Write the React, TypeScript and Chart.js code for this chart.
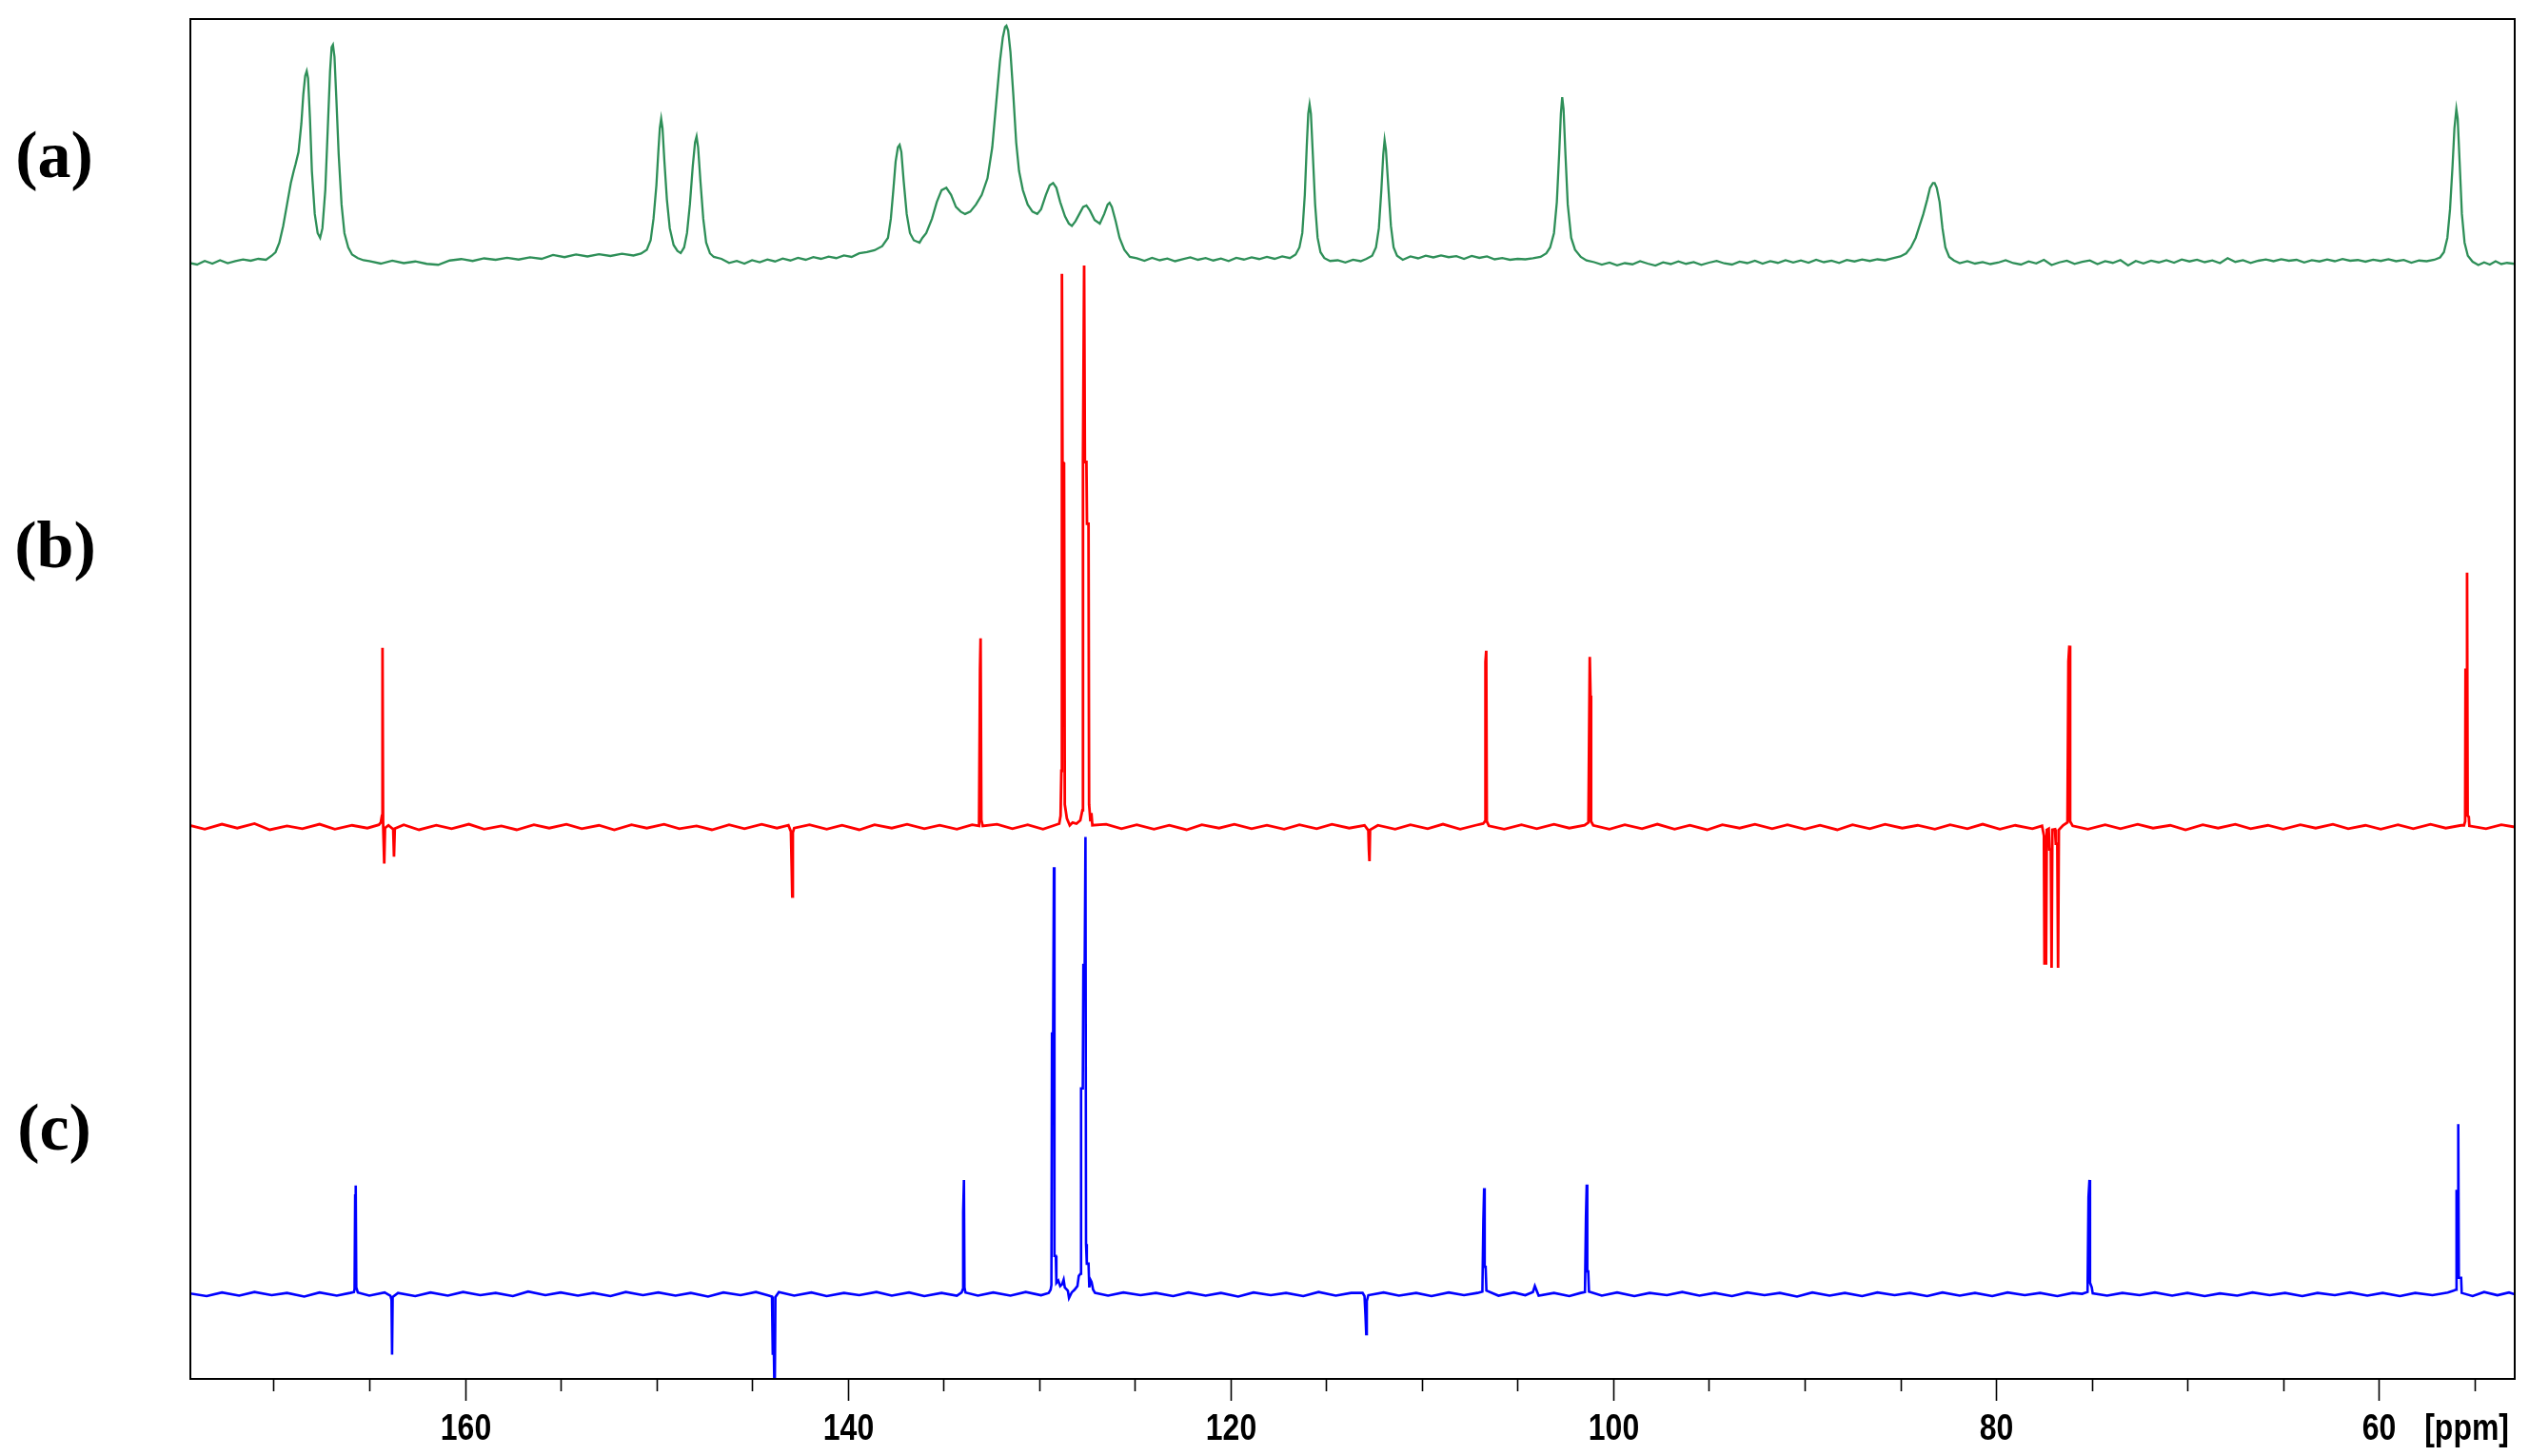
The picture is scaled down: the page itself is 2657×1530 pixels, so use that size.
import React, { useEffect, useRef } from "react";
import { Chart, registerables } from "chart.js";

Chart.register(...registerables);

// ---- DATA: [chemical shift (ppm), intensity] ----
// (a) green trace, tallest peak = 100
const traceA: [number, number][] = [
  [174.4, -0.5], [174.0, -1.2], [173.6, 0.3], [173.2, -0.8], [172.8, 0.6], [172.4, -0.6], [172.0, 0.2], [171.6, 0.9], [171.2, 0.4], [170.8, 1.2], [170.4, 0.8],
  [170.1, 2.5], [169.9, 4], [169.7, 8], [169.5, 15], [169.3, 24], [169.1, 33], [168.95, 38], [168.85, 41], [168.7, 46], [168.55, 58], [168.45, 70], [168.35, 78], [168.27, 80], [168.2, 77], [168.1, 60], [168.0, 38], [167.85, 20], [167.7, 12], [167.57, 10], [167.45, 14], [167.3, 30], [167.15, 60], [167.05, 80], [166.97, 90], [166.9, 91], [166.82, 86], [166.72, 68], [166.6, 45], [166.45, 24], [166.3, 12], [166.1, 6], [165.9, 3], [165.6, 1.5], [165.3, 0.6],
  [165.0, 0.2], [164.4, -0.8], [163.8, 0.4], [163.2, -0.6], [162.6, 0.1], [162.0, -0.9], [161.4, -1.3], [160.8, 0.5], [160.2, 1.1], [159.6, 0.3], [159.0, 1.4], [158.4, 0.8], [157.8, 1.6], [157.2, 0.9], [156.6, 1.8], [156.0, 1.2], [155.4, 2.8], [154.8, 1.9], [154.2, 3.0], [153.6, 2.2], [153.0, 3.1], [152.4, 2.4], [151.8, 3.3], [151.2, 2.6], [150.8, 3.4],
  [150.5, 5], [150.3, 9], [150.15, 18], [150.0, 32], [149.9, 46], [149.82, 56], [149.75, 60], [149.68, 56], [149.58, 42], [149.45, 26], [149.3, 14], [149.1, 7], [148.9, 4.5], [148.73, 3.6], [148.55, 6], [148.4, 12], [148.25, 24], [148.1, 40], [147.98, 50], [147.9, 52.5], [147.82, 48], [147.7, 34], [147.55, 18], [147.4, 8], [147.2, 3.5], [147.0, 2],
  [146.6, 1.2], [146.2, -0.5], [145.8, 0.3], [145.4, -0.8], [145.0, 0.6], [144.6, -0.2], [144.2, 0.9], [143.8, 0.1], [143.4, 1.3], [143.0, 0.5], [142.6, 1.6], [142.2, 0.8], [141.8, 1.9], [141.4, 1.2], [141.0, 2.1], [140.6, 1.5], [140.2, 2.6], [139.8, 2.0], [139.4, 3.5], [139.0, 4.0], [138.6, 4.8], [138.2, 6.5], [137.9, 10],
  [137.75, 18], [137.62, 30], [137.5, 42], [137.38, 48], [137.29, 49], [137.2, 46], [137.08, 34], [136.92, 20], [136.75, 12], [136.55, 9], [136.4, 8.5], [136.25, 8], [136.1, 10], [135.9, 12], [135.6, 18], [135.35, 25], [135.1, 30], [134.85, 31], [134.6, 28], [134.35, 23], [134.1, 21], [133.87, 20], [133.6, 21], [133.3, 24], [133.0, 28], [132.7, 35], [132.45, 48], [132.25, 66], [132.05, 84], [131.9, 94], [131.78, 98.5], [131.71, 99], [131.62, 97], [131.5, 88], [131.35, 70], [131.2, 50], [131.05, 38], [130.85, 30], [130.6, 24], [130.35, 21], [130.1, 20],
  [129.9, 22], [129.65, 28], [129.45, 32], [129.27, 33], [129.1, 31], [128.9, 25], [128.65, 19], [128.45, 16], [128.29, 15], [128.1, 17], [127.9, 20], [127.7, 23], [127.53, 23.6], [127.35, 21.5], [127.1, 17.5], [126.83, 16], [126.6, 20], [126.42, 24], [126.32, 24.7], [126.2, 23], [126.0, 17], [125.8, 10], [125.55, 5], [125.26, 2],
  [124.9, 1.4], [124.5, 0.4], [124.1, 1.6], [123.7, 0.6], [123.3, 1.3], [122.9, 0.2], [122.5, 1.0], [122.1, 1.8], [121.7, 0.8], [121.3, 1.5], [120.9, 0.5], [120.5, 1.3], [120.1, 0.3], [119.7, 1.6], [119.3, 0.9], [118.9, 1.8], [118.5, 1.1], [118.1, 2.0], [117.7, 1.2], [117.3, 2.2], [116.9, 1.5], [116.6, 3],
  [116.4, 6], [116.25, 12], [116.12, 28], [116.02, 48], [115.94, 62], [115.87, 66], [115.8, 62], [115.7, 45], [115.58, 24], [115.45, 10], [115.3, 4], [115.1, 1.5], [114.8, 0.3], [114.4, 0.6], [114.0, -0.3], [113.6, 0.8], [113.2, 0.2], [112.9, 1.2], [112.6, 2.5], [112.4, 6], [112.25, 14], [112.12, 30], [112.02, 45], [111.95, 51], [111.88, 47], [111.76, 32], [111.62, 15], [111.48, 6], [111.3, 2.5], [111.0, 0.8],
  [110.6, 2.2], [110.2, 1.4], [109.8, 2.5], [109.4, 1.8], [109.0, 2.6], [108.6, 1.9], [108.2, 2.3], [107.8, 1.2], [107.4, 2.4], [107.0, 1.6], [106.6, 2.2], [106.2, 1.0], [105.8, 1.5], [105.4, 0.8], [105.0, 1.2], [104.6, 1.0], [104.2, 1.4], [103.8, 2.0], [103.5, 3.5],
  [103.3, 6], [103.1, 12], [102.95, 25], [102.83, 45], [102.74, 62], [102.67, 69], [102.6, 64], [102.5, 45], [102.38, 24], [102.2, 10], [102.0, 5], [101.7, 2], [101.4, 0.5],
  [101.0, -0.2], [100.6, -1.2], [100.2, -0.4], [99.8, -1.5], [99.4, -0.6], [99.0, -1.1], [98.6, 0.2], [98.2, -0.8], [97.8, -1.6], [97.4, -0.3], [97.0, -1.0], [96.6, 0.1], [96.2, -0.9], [95.8, -0.2], [95.4, -1.3], [95.0, -0.4], [94.6, 0.3], [94.2, -0.7], [93.8, -1.2], [93.4, 0.0], [93.0, -0.6], [92.6, 0.4], [92.2, -0.8], [91.8, 0.2], [91.4, -0.5], [91.0, 0.6], [90.6, -0.3], [90.2, 0.5], [89.8, -0.4], [89.4, 0.8], [89.0, -0.2], [88.6, 0.4], [88.2, -0.5], [87.8, 0.7], [87.4, 0.1], [87.0, 0.9], [86.6, 0.3], [86.2, 1.0], [85.8, 0.6], [85.4, 1.4], [85.0, 2.2], [84.7, 3.5],
  [84.45, 6], [84.2, 10], [84.0, 15], [83.8, 20], [83.6, 26], [83.45, 31], [83.3, 33], [83.21, 33], [83.1, 31], [82.95, 25], [82.8, 14], [82.65, 6], [82.45, 2], [82.2, 0.5], [81.9, -0.6],
  [81.5, 0.2], [81.1, -0.8], [80.7, -0.2], [80.3, -1.0], [79.9, -0.4], [79.5, 0.6], [79.1, -0.6], [78.7, -1.2], [78.3, 0.1], [77.9, -0.7], [77.5, 0.8], [77.1, -1.4], [76.7, -0.3], [76.3, 0.4], [75.9, -0.9], [75.5, -0.1], [75.1, 0.5], [74.7, -1.0], [74.3, 0.2], [73.9, -0.5], [73.5, 0.7], [73.1, -1.6], [72.7, 0.3], [72.3, -0.7], [71.9, 0.4], [71.5, -0.3], [71.1, 0.6], [70.7, -0.4], [70.3, 0.9], [69.9, 0.1], [69.5, 0.8], [69.1, -0.2], [68.7, 0.5], [68.3, -0.6], [67.9, 1.5], [67.5, -0.1], [67.1, 0.6], [66.7, -0.5], [66.3, 0.4], [65.9, 0.9], [65.5, 0.2], [65.1, 1.0], [64.7, 0.4], [64.3, 0.8], [63.9, -0.3], [63.5, 0.6], [63.1, 0.1], [62.7, 0.9], [62.3, 0.2], [61.9, 1.1], [61.5, 0.4], [61.1, 0.7], [60.7, 0.0], [60.3, 0.8], [59.9, 0.3], [59.5, 1.0], [59.1, 0.2], [58.7, 0.7], [58.3, -0.4], [57.9, 0.5], [57.5, 0.2], [57.1, 0.8], [56.8, 1.8],
  [56.6, 4], [56.42, 10], [56.28, 22], [56.15, 40], [56.05, 56], [55.95, 64], [55.88, 60], [55.78, 42], [55.66, 20], [55.52, 8], [55.35, 2.5], [55.1, 0], [54.8, -1.4], [54.5, -0.3], [54.2, -1.2], [53.9, 0.2], [53.6, -1.0], [53.3, -0.5], [52.9, -0.9],
];

// (b) red trace, tallest line = 100
const traceB: [number, number][] = [
  [174.4, 0.3], [173.6, -0.4], [172.7, 0.5], [171.9, -0.2], [171.0, 0.6], [170.2, -0.5], [169.3, 0.2], [168.5, -0.3], [167.6, 0.5], [166.8, -0.4], [165.9, 0.3], [165.1, -0.2], [164.5, 0.4],
  [164.4, 0.8], [164.34, 2], [164.31, 31.9], [164.28, 1], [164.22, -6.5], [164.18, -0.2], [164.0, 0.3], [163.75, -0.4], [163.71, -5.3], [163.67, -0.3],
  [163.2, 0.4], [162.4, -0.5], [161.5, 0.3], [160.7, -0.3], [159.8, 0.5], [159.0, -0.4], [158.1, 0.2], [157.3, -0.5], [156.4, 0.4], [155.6, -0.2], [154.7, 0.5], [153.9, -0.3], [153.0, 0.3], [152.2, -0.5], [151.3, 0.4], [150.5, -0.2], [149.6, 0.5], [148.8, -0.3], [147.9, 0.2], [147.1, -0.5], [146.2, 0.4], [145.4, -0.3], [144.5, 0.5], [143.7, -0.2], [143.1, 0.3],
  [142.97, -0.8], [142.93, -7], [142.9, -12.4], [142.87, -1], [142.8, -0.2],
  [142.0, 0.4], [141.1, -0.4], [140.3, 0.3], [139.4, -0.5], [138.6, 0.4], [137.7, -0.2], [136.9, 0.5], [136.0, -0.3], [135.2, 0.3], [134.3, -0.4], [133.5, 0.4],
  [133.14, 0.2], [133.09, 28], [133.06, 33.6], [133.02, 1.2], [132.95, 0.2],
  [132.2, 0.5], [131.4, -0.3], [130.6, 0.4], [129.8, -0.4], [129.2, 0.3],
  [128.95, 0.6], [128.88, 2], [128.84, 10], [128.81, 98.5], [128.78, 65], [128.7, 64.8], [128.66, 4], [128.55, 1.5], [128.4, 0.3], [128.25, 0.8], [128.05, 0.6], [127.85, 1.2],
  [127.74, 3], [127.71, 65], [127.65, 100], [127.61, 65], [127.53, 65], [127.5, 54], [127.42, 54], [127.39, 4], [127.32, 1.0], [127.27, 2.5], [127.22, 0.3],
  [126.5, 0.5], [125.7, -0.3], [124.9, 0.4], [124.0, -0.4], [123.2, 0.3], [122.3, -0.5], [121.5, 0.4], [120.6, -0.2], [119.8, 0.5], [118.9, -0.3], [118.1, 0.3], [117.2, -0.4], [116.4, 0.4], [115.5, -0.3], [114.7, 0.5], [113.8, -0.2], [113.0, 0.3],
  [112.8, -0.6], [112.77, -4], [112.74, -6.1], [112.71, -0.5],
  [112.3, 0.3], [111.4, -0.4], [110.6, 0.4], [109.7, -0.3], [108.9, 0.5], [108.0, -0.4], [107.2, 0.3],
  [106.8, 0.6], [106.71, 1], [106.68, 29.4], [106.64, 31.4], [106.61, 1], [106.5, 0.2],
  [105.7, -0.4], [104.8, 0.4], [104.0, -0.3], [103.1, 0.5], [102.3, -0.2], [101.5, 0.3],
  [101.3, 0.8], [101.23, 30.3], [101.19, 23.4], [101.16, 1], [101.05, 0.3],
  [100.2, -0.4], [99.4, 0.4], [98.5, -0.3], [97.7, 0.5], [96.8, -0.4], [96.0, 0.3], [95.1, -0.5], [94.3, 0.4], [93.4, -0.2], [92.6, 0.5], [91.7, -0.3], [90.9, 0.4], [90.0, -0.4], [89.2, 0.3], [88.3, -0.5], [87.5, 0.4], [86.6, -0.3], [85.8, 0.5], [84.9, -0.2], [84.1, 0.3], [83.2, -0.4], [82.4, 0.4], [81.5, -0.3], [80.7, 0.5], [79.8, -0.4], [79.0, 0.3], [78.1, -0.3],
  [77.6, 0.2], [77.5, -1.5], [77.47, -24.3], [77.39, -24.3], [77.35, -0.5], [77.25, -0.3], [77.21, -4], [77.14, -4], [77.1, -25.1], [77.06, -0.5], [76.92, -0.4], [76.88, -3], [76.8, -3], [76.76, -25.1], [76.72, -0.5],
  [76.5, 0.3], [76.27, 0.8], [76.22, 29.5], [76.17, 32.3], [76.13, 1], [76.0, 0.2],
  [75.2, -0.4], [74.3, 0.4], [73.5, -0.3], [72.6, 0.5], [71.8, -0.2], [70.9, 0.3], [70.1, -0.5], [69.2, 0.4], [68.4, -0.2], [67.5, 0.5], [66.7, -0.3], [65.8, 0.3], [65.0, -0.4], [64.1, 0.4], [63.3, -0.2], [62.4, 0.5], [61.6, -0.3], [60.7, 0.3], [59.9, -0.4], [59.0, 0.4], [58.2, -0.3], [57.3, 0.5], [56.5, -0.2], [55.7, 0.3],
  [55.55, 0.3], [55.49, 1], [55.47, 28], [55.42, 28], [55.39, 45.3], [55.36, 2], [55.3, 1.8], [55.27, 0.2],
  [54.4, -0.3], [53.6, 0.4], [52.9, 0],
];

// (c) blue trace, tallest line = 100
const traceC: [number, number][] = [
  [174.4, 0.2], [173.5, -0.4], [172.7, 0.4], [171.8, -0.3], [171.0, 0.5], [170.1, -0.2], [169.3, 0.3], [168.4, -0.5], [167.6, 0.4], [166.7, -0.3], [166.0, 0.3],
  [165.8, 0.5], [165.77, 1.2], [165.74, 21.6], [165.71, 23.8], [165.68, 1.5], [165.6, 0.4],
  [165.0, -0.3], [164.2, 0.4], [163.9, -0.3], [163.84, -1.2], [163.81, -13.2], [163.78, -0.6], [163.5, 0.3],
  [162.6, -0.4], [161.8, 0.4], [160.9, -0.3], [160.1, 0.5], [159.2, -0.2], [158.4, 0.3], [157.5, -0.4], [156.7, 0.6], [155.8, -0.2], [155.0, 0.4], [154.1, -0.3], [153.3, 0.3], [152.4, -0.4], [151.6, 0.5], [150.7, -0.2], [149.9, 0.4], [149.0, -0.3], [148.2, 0.3], [147.3, -0.5], [146.5, 0.4], [145.6, -0.2], [144.8, 0.5], [144.2, -0.2],
  [143.96, -0.5], [143.92, -13], [143.86, -13], [143.82, -25], [143.78, -0.6], [143.6, 0.5],
  [142.8, -0.3], [141.9, 0.4], [141.1, -0.4], [140.2, 0.3], [139.4, -0.2], [138.5, 0.5], [137.7, -0.3], [136.8, 0.4], [136.0, -0.4], [135.1, 0.3], [134.3, -0.3],
  [134.05, 0.4], [134.0, 1], [133.97, 18], [133.93, 25], [133.9, 1.5], [133.85, 0.4],
  [133.2, -0.3], [132.4, 0.4], [131.5, -0.3], [130.7, 0.5], [129.9, -0.2], [129.5, 0.3],
  [129.4, 1.0], [129.36, 2], [129.33, 57], [129.27, 57], [129.23, 93.4], [129.2, 8.4], [129.13, 8.4], [129.1, 2.5], [129.0, 3], [128.9, 1.8], [128.8, 2.2], [128.72, 3.2], [128.66, 1.5], [128.5, 0.8], [128.44, -0.8], [128.3, 0.4], [128.15, 1], [128.0, 1.8],
  [127.93, 4], [127.84, 4.5], [127.81, 45], [127.72, 45], [127.69, 72], [127.62, 72], [127.58, 100], [127.55, 11], [127.51, 6.7], [127.42, 6.7], [127.38, 1.5], [127.32, 3.2], [127.26, 2.7], [127.18, 1], [127.08, 0.3],
  [126.4, -0.3], [125.6, 0.4], [124.7, -0.2], [123.9, 0.3], [123.0, -0.4], [122.2, 0.4], [121.3, -0.3], [120.5, 0.3], [119.6, -0.5], [118.8, 0.4], [117.9, -0.2], [117.1, 0.3], [116.2, -0.4], [115.4, 0.5], [114.5, -0.3], [113.7, 0.3],
  [113.1, 0.3], [113.0, -0.4], [112.95, -4.6], [112.91, -8.7], [112.88, -1.5], [112.8, -0.2],
  [112.0, 0.4], [111.2, -0.3], [110.3, 0.3], [109.5, -0.4], [108.6, 0.4], [107.8, -0.2], [107.1, 0.3],
  [106.84, 0.6], [106.79, 16], [106.75, 23.2], [106.72, 6], [106.67, 6], [106.63, 0.8],
  [106.0, -0.3], [105.2, 0.4], [104.6, -0.2], [104.2, 0.5], [104.1, 1.8], [103.9, -0.3], [103.1, 0.3], [102.3, -0.4], [101.7, 0.3],
  [101.48, 0.5], [101.43, 16.7], [101.39, 24], [101.36, 5], [101.31, 5], [101.27, 0.6],
  [100.6, -0.3], [99.8, 0.4], [98.9, -0.4], [98.1, 0.3], [97.2, -0.2], [96.4, 0.5], [95.5, -0.3], [94.7, 0.3], [93.8, -0.4], [93.0, 0.4], [92.1, -0.2], [91.3, 0.3], [90.4, -0.5], [89.6, 0.4], [88.7, -0.3], [87.9, 0.3], [87.0, -0.4], [86.2, 0.4], [85.3, -0.2], [84.5, 0.3], [83.6, -0.4], [82.8, 0.4], [81.9, -0.3], [81.1, 0.3], [80.2, -0.4], [79.4, 0.4], [78.5, -0.2], [77.7, 0.3], [76.8, -0.4], [76.0, 0.3], [75.5, 0.1],
  [75.22, 0.5], [75.17, 21.3], [75.12, 25], [75.09, 2.5], [75.0, 1.5], [74.95, 0.2],
  [74.2, -0.3], [73.4, 0.3], [72.5, -0.2], [71.7, 0.4], [70.8, -0.3], [70.0, 0.3], [69.1, -0.4], [68.3, 0.2], [67.4, -0.3], [66.6, 0.4], [65.7, -0.2], [64.9, 0.3], [64.0, -0.4], [63.2, 0.3], [62.3, -0.2], [61.5, 0.4], [60.6, -0.3], [59.8, 0.3], [58.9, -0.4], [58.1, 0.3], [57.2, -0.2], [56.4, 0.4],
  [56.1, 0.8], [55.97, 1], [55.94, 22.6], [55.88, 22.6], [55.85, 37.2], [55.82, 3.6], [55.7, 3.6], [55.67, 0.3],
  [55.1, -0.4], [54.5, 0.5], [53.8, -0.2], [53.2, 0.4], [52.9, 0],
];

const traceLabels = ["(a)", "(b)", "(c)"];
const traceColors = ["#2e8f58", "#ff0000", "#0000ff"];
const ppmRange = { min: 52.9, max: 174.35 };
const minorTickStep = 5;
const majorTickStep = 20;
const unitLabel = "[ppm]";

const W = 2657;
const H = 1530;

const TICK_FONT = "bold 39px 'Liberation Sans', Arial, sans-serif";
const NARROW = 0.82;

const frameTicksPlugin = {
  id: "frameTicks",
  afterDraw(chart: any) {
    const { ctx, chartArea } = chart;
    const { left, right, top, bottom } = chartArea;
    const xs = chart.scales.x;
    ctx.save();
    ctx.strokeStyle = "#000";
    ctx.lineWidth = 2;
    ctx.strokeRect(left, top, right - left, bottom - top);
    ctx.lineWidth = 1.6;
    ctx.fillStyle = "#000";
    ctx.font = TICK_FONT;
    ctx.textBaseline = "alphabetic";
    const baseY = bottom + 64;
    xs.ticks.forEach((t: any) => {
      const px = Math.round(xs.getPixelForValue(t.value)) + 0.5;
      const major = t.value % majorTickStep === 0;
      const len = major ? 23 : 13;
      ctx.beginPath();
      ctx.moveTo(px, bottom);
      ctx.lineTo(px, bottom + len);
      ctx.stroke();
      if (major) {
        ctx.save();
        ctx.translate(px, baseY);
        ctx.scale(NARROW, 1);
        ctx.textAlign = "center";
        ctx.fillText(String(t.value), 0, 0);
        ctx.restore();
      }
    });
    ctx.save();
    ctx.translate(right - 6, baseY);
    ctx.scale(NARROW, 1);
    ctx.textAlign = "right";
    ctx.fillText(unitLabel, 0, 0);
    ctx.restore();
    ctx.restore();
  },
};

function toXY(arr: [number, number][]) {
  return arr.map(([x, y]) => ({ x, y }));
}

export default function App() {
  const canvasRef = useRef<HTMLCanvasElement | null>(null);

  useEffect(() => {
    if (!canvasRef.current) return;
    const mk = (data: [number, number][], color: string, axis: string, width: number) => ({
      data: toXY(data),
      borderColor: color,
      borderWidth: width,
      pointRadius: 0,
      tension: 0,
      fill: false,
      yAxisID: axis,
    });
    const chart = new Chart(canvasRef.current, {
      type: "line",
      data: {
        datasets: [
          mk(traceA, traceColors[0], "yA", 2.3),
          mk(traceB, traceColors[1], "yB", 2.8),
          mk(traceC, traceColors[2], "yC", 2.6),
        ],
      },
      options: {
        responsive: false,
        animation: false,
        events: [],
        layout: { padding: { left: 200, right: 15, top: 20, bottom: 0 } },
        plugins: { legend: { display: false }, tooltip: { enabled: false } },
        scales: {
          x: {
            type: "linear",
            reverse: true,
            min: ppmRange.min,
            max: ppmRange.max,
            afterFit: (scale: any) => {
              scale.height = 81;
              scale.paddingLeft = 0;
              scale.paddingRight = 0;
            },
            grid: { display: false, drawTicks: false },
            border: { display: false },
            ticks: {
              display: false,
              stepSize: minorTickStep,
              includeBounds: false,
              autoSkip: false,
              maxRotation: 0,
              minRotation: 0,
            },
          },
          yA: { type: "linear", display: false, min: -468.7, max: 101.8 },
          yB: { type: "linear", display: false, min: -98.3, max: 143.9 },
          yC: { type: "linear", display: false, min: -18.5, max: 278.8 },
        },
      },
      plugins: [frameTicksPlugin],
    });
    return () => chart.destroy();
  }, []);

  const labelStyle = (x: number, y: number): React.CSSProperties => ({
    position: "absolute",
    left: x,
    top: y,
    transform: "translate(-50%, -50%)",
    fontFamily: "'Liberation Serif', 'Times New Roman', serif",
    fontWeight: "bold",
    fontSize: 70,
    lineHeight: 1,
    color: "#000",
    whiteSpace: "nowrap",
  });

  return (
    <div style={{ position: "absolute", left: 0, top: 0, width: W, height: H, background: "#fff", overflow: "hidden" }}>
      <canvas ref={canvasRef} width={W} height={H} style={{ display: "block" }} />
      <div style={labelStyle(57, 163)}>{traceLabels[0]}</div>
      <div style={labelStyle(58, 573)}>{traceLabels[1]}</div>
      <div style={labelStyle(57, 1185)}>{traceLabels[2]}</div>
    </div>
  );
}
